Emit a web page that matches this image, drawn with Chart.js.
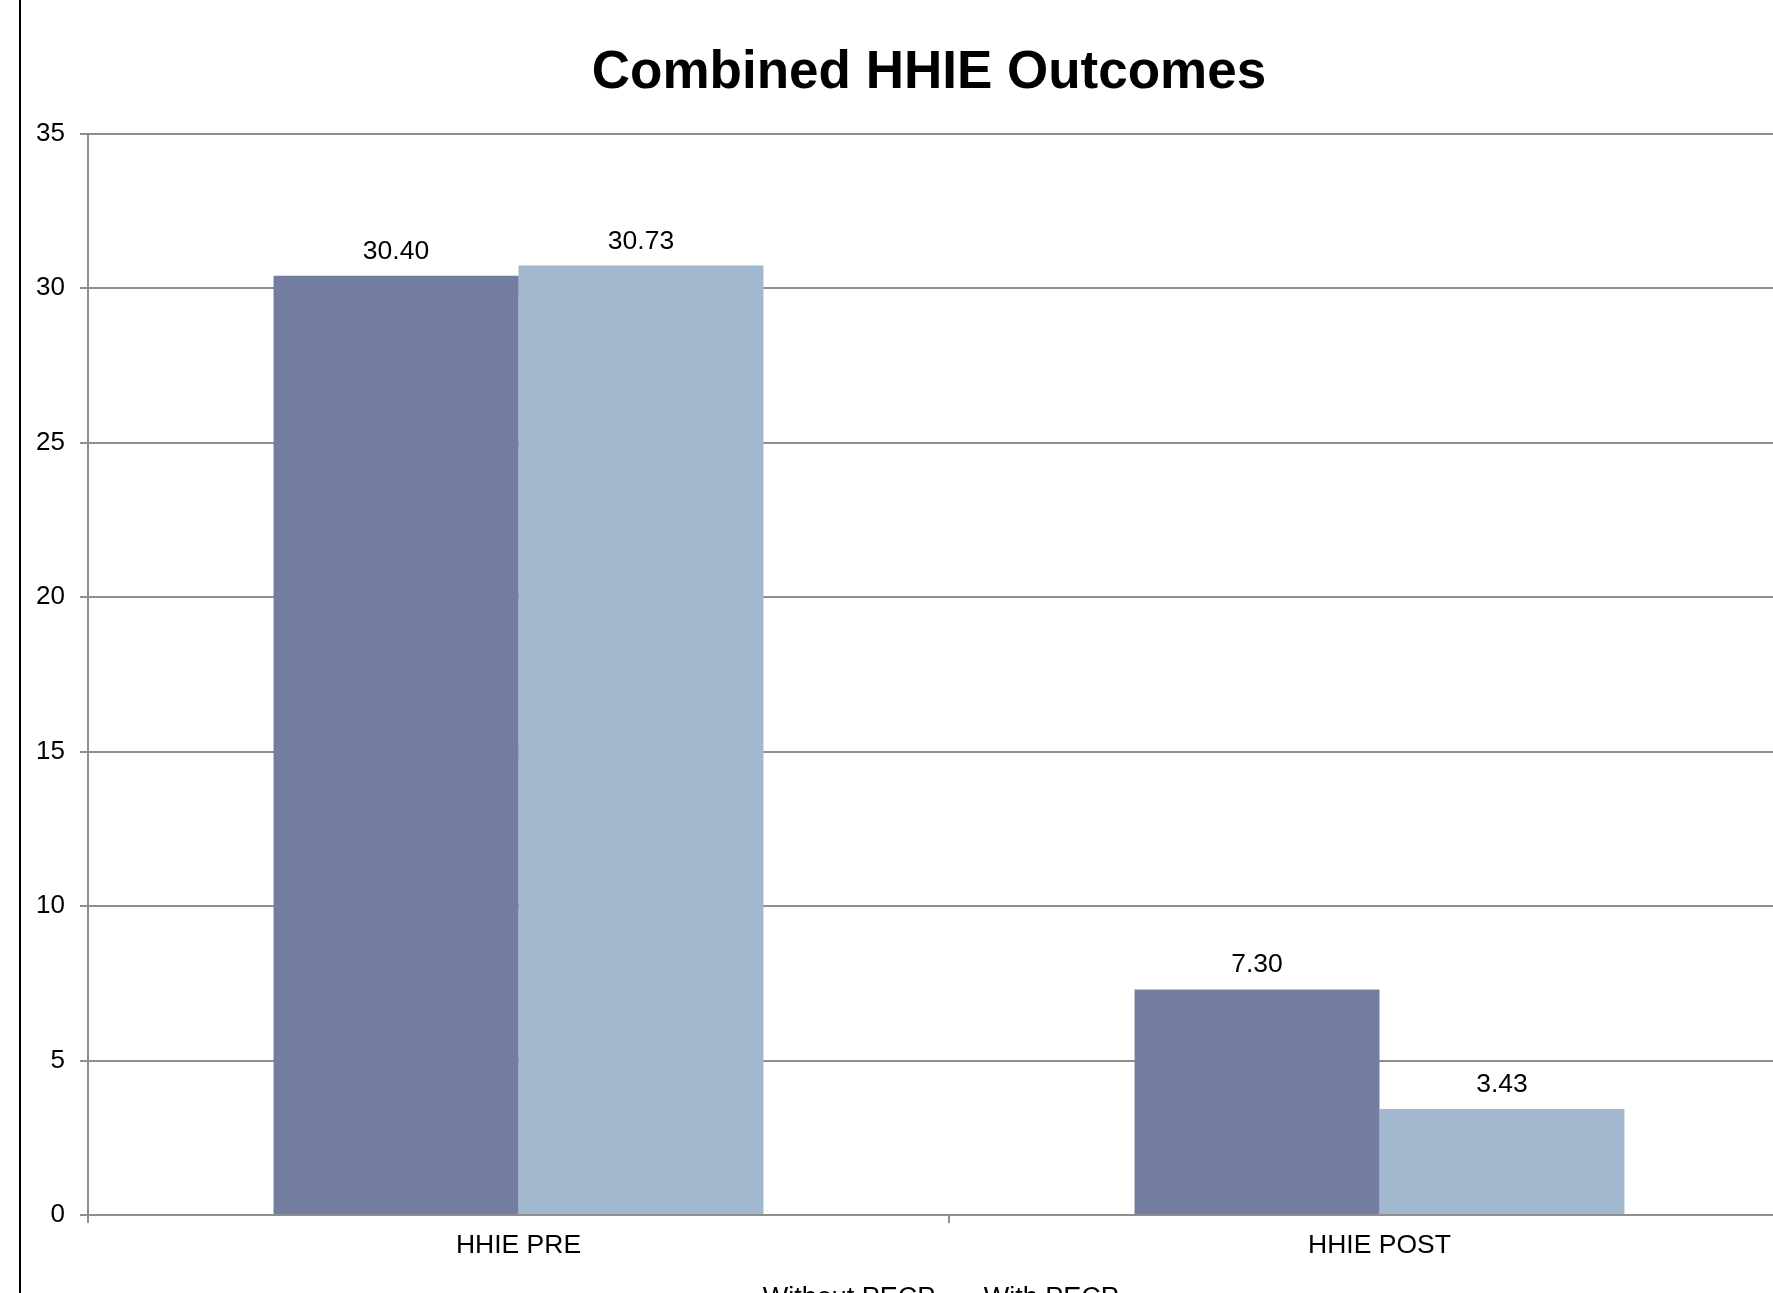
<!DOCTYPE html>
<html>
<head>
<meta charset="utf-8">
<title>Combined HHIE Outcomes</title>
<script src="https://cdn.jsdelivr.net/npm/chart.js@4.4.1/dist/chart.umd.min.js"></script>
<style>
  html, body { margin: 0; padding: 0; background: #fff; overflow: hidden; }
  #frame { position: absolute; left: 19px; top: -20px; width: 1830px; height: 1400px; border: 2px solid #000; box-sizing: border-box; pointer-events: none; }
  #wrap { position: absolute; left: 0; top: 0; width: 1860px; height: 1322px; }
</style>
</head>
<body>
<div id="wrap"><canvas id="hhie"></canvas></div>
<div id="frame"></div>
<script>
'use strict';

const categories   = ['HHIE PRE', 'HHIE POST'];
const seriesNames  = ['Without PECP', 'With PECP'];
const withoutPecp  = [30.40, 7.30];
const withPecp     = [30.73, 3.43];
const yTicks       = [0, 5, 10, 15, 20, 25, 30, 35];

const FONT  = "'Liberation Sans', Arial, sans-serif";
const GRID  = '#8e8e8e';
const DARK  = '#737ca1';
const LIGHT = '#a2b8cf';

// value labels above each bar
const barValues = {
  id: 'barValues',
  afterDatasetsDraw(chart) {
    const ctx = chart.ctx;
    ctx.save();
    ctx.font = `26.5px ${FONT}`;
    ctx.fillStyle = '#000';
    ctx.textAlign = 'center';
    ctx.textBaseline = 'alphabetic';
    chart.data.datasets.forEach((ds, i) => {
      chart.getDatasetMeta(i).data.forEach((bar, j) => {
        ctx.fillText(ds.data[j].toFixed(2), bar.x, bar.y - 17);
      });
    });
    ctx.restore();
  }
};

new Chart(document.getElementById('hhie'), {
  type: 'bar',
  data: {
    labels: categories,
    datasets: [
      { label: seriesNames[0], data: withoutPecp, backgroundColor: DARK, categoryPercentage: 0.569, barPercentage: 1 },
      { label: seriesNames[1], data: withPecp,    backgroundColor: LIGHT, categoryPercentage: 0.569, barPercentage: 1 }
    ]
  },
  options: {
    responsive: true,
    maintainAspectRatio: false,
    animation: false,
    layout: { padding: { left: 20, right: 22, top: 0, bottom: 0 } },
    plugins: {
      title: {
        display: true,
        text: 'Combined HHIE Outcomes',
        color: '#000',
        font: { family: FONT, size: 53, weight: 'bold' },
        padding: { top: 42, bottom: 28 }
      },
      legend: {
        position: 'bottom',
        labels: { color: '#000', font: { family: FONT, size: 27 }, boxWidth: 10, boxHeight: 6, padding: 25 }
      },
      tooltip: { enabled: false }
    },
    scales: {
      x: {
        grid: { drawOnChartArea: false, drawTicks: true, tickLength: 8, color: GRID, lineWidth: 2 },
        border: { color: GRID, width: 2 },
        ticks: { color: '#000', font: { family: FONT, size: 26.5 }, padding: 7 },
        afterFit: s => { s.height = 45; }
      },
      y: {
        min: 0,
        max: 35,
        afterBuildTicks: s => { s.ticks = yTicks.map(v => ({ value: v })); },
        grid: { color: GRID, lineWidth: 2, tickLength: 8 },
        border: { color: GRID, width: 2 },
        ticks: { color: '#000', font: { family: FONT, size: 26 }, padding: 15 },
        afterFit: s => { s.width = 68; }
      },
      // empty strip so the plot stops short of the right frame
      yRight: {
        type: 'linear',
        position: 'right',
        grid: { display: false },
        border: { display: false },
        ticks: { display: false },
        afterFit: s => { s.width = 28; }
      }
    }
  },
  plugins: [barValues]
});
</script>
</body>
</html>
